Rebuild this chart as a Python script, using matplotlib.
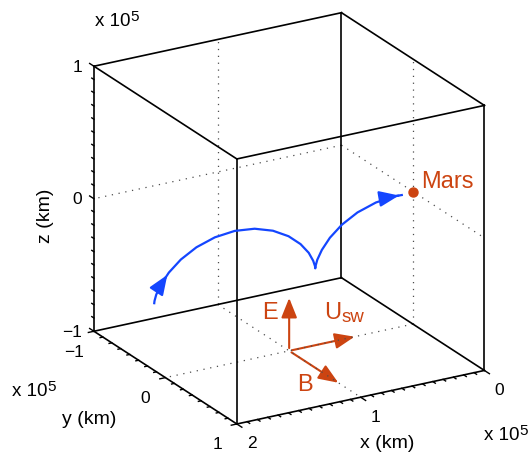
import matplotlib
matplotlib.use("Agg")
import matplotlib.pyplot as plt
import numpy as np
from matplotlib.patches import FancyArrowPatch
from mpl_toolkits.mplot3d import proj3d

plt.rcParams["font.family"] = ["Liberation Sans", "DejaVu Sans"]

# axis ranges, units of 1e5 km
x_lim = (0, 2)
y_lim = (-1, 1)
z_lim = (-1, 1)
x_ticks = [0, 1, 2]
y_ticks = [-1, 0, 1]
z_ticks = [-1, 0, 1]

mars = (0.0, 0.0, 0.0)

# pickup ion path, lies in the y = 0 plane
path_x = [2.09, 2.088, 2.074, 2.037, 1.972, 1.875, 1.749, 1.600, 1.440,
          1.279, 1.131, 1.005, 0.908, 0.842, 0.806, 0.791, 0.789,
          0.787, 0.773, 0.736, 0.671, 0.574, 0.448, 0.299, 0.139, 0.09]
path_z = [-0.42, -0.404, -0.359, -0.292, -0.213, -0.134, -0.067, -0.022, -0.006,
          -0.022, -0.067, -0.134, -0.213, -0.292, -0.359, -0.404, -0.42,
          -0.404, -0.359, -0.292, -0.213, -0.134, -0.067, -0.022, -0.006, -0.008]
path_y = [0.0] * len(path_x)

# field vectors, all starting at the floor grid crossing
vec_origin = (1.0, 0.0, -1.0)
vec_dx = [0.0, -0.55, 0.0]
vec_dy = [0.0, 0.0, 0.72]
vec_dz = [0.42, 0.0, 0.0]

RED = "#cc4411"
BLUE = "#1446ff"


class Arrow3D(FancyArrowPatch):
    def __init__(self, xs, ys, zs, **kw):
        super().__init__((0, 0), (0, 0), **kw)
        self._xyz = (xs, ys, zs)

    def do_3d_projection(self, renderer=None):
        xs, ys, zs = proj3d.proj_transform(*self._xyz, self.axes.M)
        self.set_positions((xs[0], ys[0]), (xs[1], ys[1]))
        return np.min(zs)


W, H = 532, 456
fig = plt.figure(figsize=(W / 100, H / 100), dpi=100)
S = 456
cx, cy = 283, 225.5
ax = fig.add_axes([(cx - S / 2) / W, 1 - (cy + S / 2) / H, S / W, S / H],
                  projection="3d")
ax.computed_zorder = False
ax.set_proj_type("ortho")
ax.view_init(elev=22, azim=60)
ax.set_xlim(*x_lim)
ax.set_ylim(*y_lim)
ax.set_zlim(*z_lim)
ax.set_xticks([])
ax.set_yticks([])
ax.set_zticks([])
ax.set_box_aspect((1, 1, 1), zoom=1.054)
ax.set_axis_off()


def label3d(x, y, z, s, **kw):
    # flat text placed at the projected spot of a 3d point
    X, Y, _ = proj3d.proj_transform(x, y, z, ax.get_proj())
    return ax.text2D(float(X), float(Y), s, transform=ax.transData, **kw)


grid_kw = dict(color="0.3", lw=0.9, linestyle=(0, (1, 4.5)))
ax.plot([x_lim[0]] * 2, [0, 0], z_lim, **grid_kw)
ax.plot([x_lim[0]] * 2, y_lim, [0, 0], **grid_kw)
ax.plot([1, 1], [y_lim[0]] * 2, z_lim, **grid_kw)
ax.plot(x_lim, [y_lim[0]] * 2, [0, 0], **grid_kw)
ax.plot([1, 1], y_lim, [z_lim[0]] * 2, **grid_kw)
ax.plot(x_lim, [0, 0], [z_lim[0]] * 2, **grid_kw)

# box
box_kw = dict(color="k", lw=1.2)
for y in y_lim:
    for z in z_lim:
        ax.plot(x_lim, [y, y], [z, z], **box_kw)
for x in x_lim:
    for z in z_lim:
        ax.plot([x, x], y_lim, [z, z], **box_kw)
for x in x_lim:
    for y in y_lim:
        ax.plot([x, x], [y, y], z_lim, **box_kw)

# tick marks
tk = dict(color="k", lw=1.0)
for v in np.arange(0, 2.0001, 1 / 12):
    ln = 0.07 if abs(v - round(v)) < 1e-6 else 0.035
    ax.plot([v, v], [1, 1 + ln], [-1, -1], **tk)
for v in np.arange(-1, 1.0001, 1 / 8):
    ln = 0.045 if abs(v - round(v)) < 1e-6 else 0.022
    ax.plot([2, 2 + ln], [v, v], [-1, -1], **tk)
for v in np.arange(-1, 1.0001, 0.1):
    ln = 0.06 if abs(v - round(v)) < 1e-6 else 0.03
    ax.plot([2, 2], [-1, -1 - ln], [v, v], **tk)

fs = 12.5
for v in x_ticks:
    label3d(v, 1.208, -1.069, str(v).replace("-", "\u2212"), fontsize=fs,
            ha="center", va="center")
for v in y_ticks:
    label3d(2.16, v, -1.118, str(v).replace("-", "\u2212"), fontsize=fs,
            ha="center", va="center")
for v in z_ticks:
    label3d(2.097, -1, v + 0.02, str(v).replace("-", "\u2212"), fontsize=fs,
            ha="right", va="center")


def px(x, y):
    return x / W, 1 - y / H


fig.text(*px(387, 444), "x (km)", fontsize=14, ha="center", va="center")
fig.text(*px(89, 420), "y (km)", fontsize=14, ha="center", va="center")
fig.text(*px(46, 216), "z (km)", fontsize=14, ha="center", va="center",
         rotation=90)

# scale factor labels
for (bx, by), (sx, sy) in [((95, 26), (130, 21)),
                           ((12, 396), (47, 391)),
                           ((484, 440), (519, 435))]:
    fig.text(*px(bx, by), "x 10", fontsize=13.5, ha="left", va="baseline")
    fig.text(*px(sx, sy), "5", fontsize=11, ha="left", va="baseline")

# ion path
ax.plot(path_x, path_y, path_z, color=BLUE, lw=1.6)
head = "-|>,head_length=0.6,head_width=0.24"
ax.add_artist(Arrow3D(path_x[3:5], path_y[3:5], path_z[3:5], arrowstyle=head,
                      mutation_scale=20, color=BLUE, lw=1.6))
ax.add_artist(Arrow3D(path_x[-2:], path_y[-2:], path_z[-2:], arrowstyle=head,
                      mutation_scale=20, color=BLUE, lw=1.6))

# Mars
ax.plot([mars[0]], [mars[1]], [mars[2]], "o", color=RED, ms=6.5)
label3d(mars[0] - 0.065, mars[1], mars[2] + 0.024, "Mars", color=RED,
        fontsize=17, ha="left", va="baseline")

# field vectors
ox, oy, oz = vec_origin
for dx, dy, dz in zip(vec_dx, vec_dy, vec_dz):
    ax.add_artist(Arrow3D([ox, ox + dx], [oy, oy + dy], [oz, oz + dz],
                          arrowstyle=head, mutation_scale=20, color=RED,
                          lw=1.5))
label3d(1.153, 0, -0.721, "E", color=RED, fontsize=17,
        ha="center", va="baseline")
label3d(0.718, 0, -0.809, "U", color=RED, fontsize=17,
        ha="left", va="baseline")
label3d(0.58, 0, -0.86, "sw", color=RED, fontsize=13.5,
        ha="left", va="baseline")
label3d(0.871, 0, -1.32, "B", color=RED, fontsize=17,
        ha="center", va="baseline")

fig.savefig("out.png", dpi=100)
